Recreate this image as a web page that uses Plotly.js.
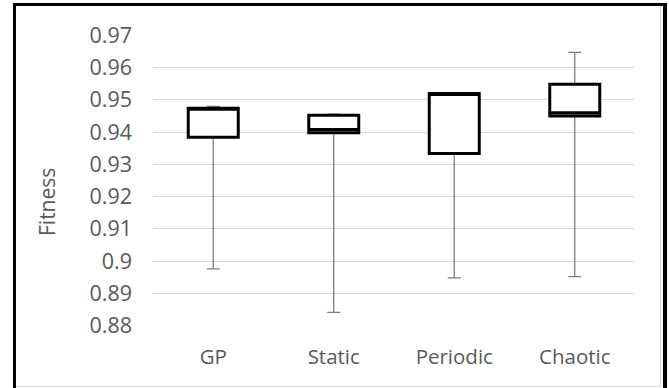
<!DOCTYPE html>
<html>
<head>
<meta charset="utf-8">
<script src="https://cdn.plot.ly/plotly-3.0.1.min.js"></script>
<style>
  html, body { margin: 0; padding: 0; background: #fff; }
  #wrap { position: relative; width: 669px; height: 388px; overflow: hidden; }
  #chart { position: absolute; left: 0; top: 0; width: 669px; height: 388px; }
  #frame { position: absolute; left: 13px; top: 3px; width: 647px; height: 400px;
           border-left: 3px solid #000; border-top: 3px solid #000; border-right: 4px solid #000;
           pointer-events: none; }
  #inner { position: absolute; left: 16px; top: 6px; width: 644px; height: 380px;
           border-right: 1px solid #d9d9d9; border-bottom: 1px solid #d9d9d9; pointer-events: none; }
</style>
</head>
<body>
<div id="wrap">
  <div id="chart"></div>
  <div id="inner"></div>
  <div id="frame"></div>
</div>
<script>
const categories = ["GP", "Static", "Periodic", "Chaotic"];
const minValues    = [0.8976, 0.8841, 0.8948, 0.8952];
const q1Values     = [0.9384, 0.9398, 0.9334, 0.9450];
const medianValues = [0.9472, 0.9408, 0.9518, 0.9460];
const q3Values     = [0.9474, 0.9452, 0.9520, 0.9548];
const maxValues    = [0.9480, 0.9456, 0.9521, 0.9647];
const yTicks = [0.88, 0.89, 0.9, 0.91, 0.92, 0.93, 0.94, 0.95, 0.96, 0.97];
const yTickText = ["0.88", "0.89", "0.9", "0.91", "0.92", "0.93", "0.94", "0.95", "0.96", "0.97"];
const yTitle = "Fitness";

const font = "'Open Sans', 'Liberation Sans', sans-serif";

const whiskers = {
  type: "scatter",
  mode: "markers",
  x: categories,
  y: medianValues,
  xaxis: "x",
  yaxis: "y",
  marker: { size: 1, opacity: 0 },
  error_y: {
    type: "data",
    symmetric: false,
    array: maxValues.map((v, i) => v - medianValues[i]),
    arrayminus: medianValues.map((v, i) => v - minValues[i]),
    color: "#7f7f7f",
    thickness: 1.3,
    width: 6.5
  },
  hoverinfo: "skip",
  showlegend: false
};

const boxes = {
  type: "box",
  x: categories,
  q1: q1Values,
  median: medianValues,
  q3: q3Values,
  lowerfence: q1Values,
  upperfence: q3Values,
  xaxis: "x",
  yaxis: "y2",
  fillcolor: "#ffffff",
  line: { color: "#000000", width: 3 },
  whiskerwidth: 0,
  boxpoints: false,
  showlegend: false
};

const yRange = [0.8799, 0.9701];

const layout = {
  width: 669,
  height: 388,
  margin: { l: 153, r: 34, t: 35, b: 62 },
  paper_bgcolor: "#ffffff",
  plot_bgcolor: "#ffffff",
  showlegend: false,
  boxgap: 0.585,
  boxgroupgap: 0,
  font: { family: font, color: "#595959", size: 21 },
  xaxis: {
    type: "category",
    showgrid: false,
    zeroline: false,
    showline: false,
    ticks: "",
    ticklabelstandoff: 16,
    tickfont: { family: font, size: 20.5, color: "#595959" }
  },
  yaxis: {
    range: yRange,
    tickvals: yTicks,
    ticktext: yTickText,
    showgrid: true,
    gridcolor: "#d9d9d9",
    gridwidth: 1,
    zeroline: false,
    showline: false,
    ticks: "",
    ticklabelstandoff: 20,
    tickfont: { family: font, size: 21.5, color: "#595959" }
  },
  yaxis2: {
    range: yRange,
    overlaying: "y",
    showgrid: false,
    zeroline: false,
    showline: false,
    showticklabels: false,
    ticks: ""
  },
  annotations: [{
    text: yTitle,
    xref: "paper", yref: "paper",
    x: (47 - 153) / 482, y: (326 - 202) / 291,
    xanchor: "center", yanchor: "middle",
    textangle: -90,
    showarrow: false,
    font: { family: font, size: 21, color: "#595959" }
  }]
};

Plotly.newPlot("chart", [whiskers, boxes], layout, { staticPlot: true, displayModeBar: false });
</script>
</body>
</html>
